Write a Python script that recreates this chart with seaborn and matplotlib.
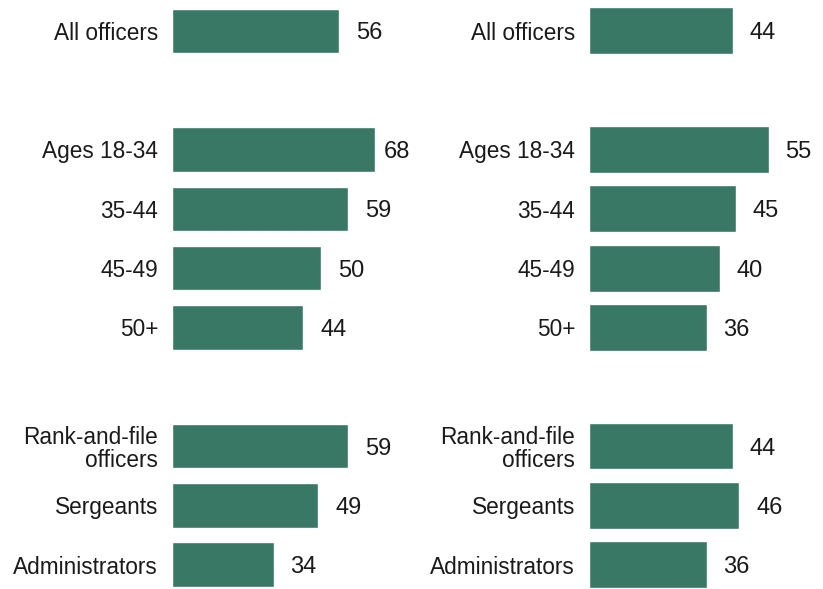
import matplotlib
matplotlib.use('Agg')
import pandas as pd
import matplotlib.pyplot as plt
import seaborn as sns

# Data
groups = ['All officers', 'Ages 18-34', '35-44', '45-49', '50+',
          'Rank-and-file\nofficers', 'Sergeants', 'Administrators']
left_values = [56, 68, 59, 50, 44, 59, 49, 34]
right_values = [44, 55, 45, 40, 36, 44, 46, 36]

# blank slots between the three blocks
order = ['All officers', 'gap1', 'Ages 18-34', '35-44', '45-49', '50+', 'gap2',
         'Rank-and-file\nofficers', 'Sergeants', 'Administrators']

green = '#3a7866'

sns.set_style('white')
plt.rcParams['font.family'] = ['Liberation Sans', 'DejaVu Sans']

fig = plt.figure(figsize=(8.23, 5.89), dpi=100)
W, H = 823, 589
# axes placed in pixel terms: [left, bottom, width, height]
ax_l = fig.add_axes([172 / W, 0, 224 / W, 1])
ax_r = fig.add_axes([589 / W, 0, 229 / W, 1])

panels = [(ax_l, left_values, 75, 0.75), (ax_r, right_values, 70, 0.79)]

for ax, vals, xmax, bw in panels:
    df = pd.DataFrame({'group': groups, 'value': vals})
    sns.barplot(data=df, x='value', y='group', order=order, color=green,
                width=bw, orient='h', ax=ax, saturation=1)
    ax.set_xlim(0, xmax)
    ax.set_ylim(9.41, -0.52)
    ax.set_xlabel('')
    ax.set_ylabel('')
    ax.set_xticks([])
    ticks = [i for i, g in enumerate(order) if not g.startswith('gap')]
    ax.set_yticks(ticks)
    ax.set_yticklabels([order[i] for i in ticks], fontsize=16.3, color='#1a1a1a',
                       ha='right', linespacing=1.05)
    ax.tick_params(axis='y', length=0, pad=10)
    sns.despine(ax=ax, left=True, bottom=True)
    for c in ax.containers:
        anns = ax.bar_label(c, fmt='%d', padding=12, fontsize=17, color='#1a1a1a')
        for a in anns:
            a.set_va('center_baseline')
            if a.get_text() == '68' and ax is ax_l:
                a.xyann = (6, 0)

fig.savefig('out.png', dpi=100, facecolor='white')
